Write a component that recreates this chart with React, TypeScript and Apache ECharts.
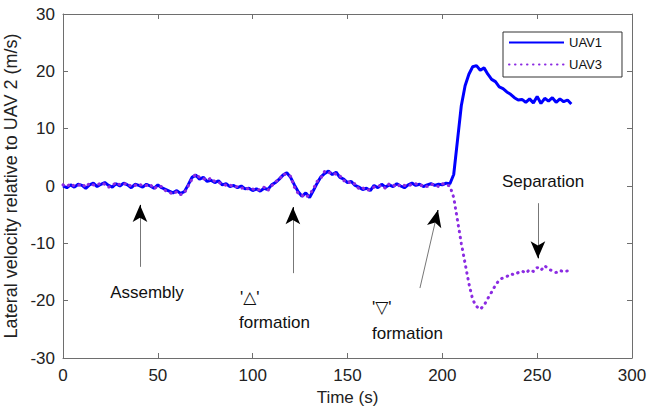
import React, { useEffect, useRef } from 'react';
import * as echarts from 'echarts';

// time step of the samples (s); first sample at t = 0
const T_STEP = 2;

// Lateral velocity relative to UAV 2 (m/s), UAV1, t = 0, 2, 4, ... 268 s
const uav1: number[] = [
  0, -0.3, 0.2, -0.2, 0.3, 0.1, -0.4, 0.2, 0.5, -0.1, 0.3,
  0.6, 0.1, -0.2, 0.4, 0, 0.5, 0.2, -0.3, 0.3, 0.1,
  -0.2, 0.3, 0, -0.4, 0.2, -0.3, -0.6, -0.9, -1.2, -0.8,
  -1.3, -1.0, 0.2, 1.5, 1.9, 1.2, 1.5, 0.8, 1.0, 0.6,
  0.9, 0.2, 0.4, -0.1, 0.1, -0.3, 0, -0.5, -0.4, -0.8,
  -0.5, -0.9, -0.4, -0.6, 0.2, 0.6, 1.2, 1.9, 2.3, 1.5,
  0.2, -1.0, -1.8, -1.2, -2.0, -0.8, 0.5, 1.6, 2.2, 2.6,
  2.0, 2.4, 1.5, 1.2, 0.6, 0.8, 0.1, -0.2, -0.6, -0.4,
  -0.8, 0.1, -0.3, 0.3, -0.2, 0.2, -0.1, 0.4, 0, -0.3,
  0.2, 0.5, 0.1, 0.3, -0.1, 0.2, 0.4, 0.1, 0.3, 0.2,
  0.5, 0.4, 2, 8, 14, 17.5, 19.5, 20.8, 21, 20.2,
  20.6, 19.5, 18.6, 18.2, 17.3, 17.0, 16.4, 16.0, 15.4, 15.0,
  15.1, 14.6, 15.2, 14.5, 15.6, 14.4, 15.3, 14.8, 15.4, 14.6,
  15.2, 14.7, 15.0, 14.3,
];

// UAV3, same time base
const uav3: number[] = [
  0.2, -0.1, 0.4, 0, 0.1, 0.4, -0.2, 0.5, 0.2, 0.1, 0.6,
  0.3, -0.2, 0.1, 0.6, 0.2, 0.3, 0.5, -0.1, 0.1, 0.4,
  0, 0.1, 0.3, -0.5, 0, -0.1, -0.8, -1.1, -1.4, -1.0,
  -1.5, -1.2, 0.0, 1.2, 2.1, 1.5, 1.3, 1.0, 1.4, 0.8,
  0.6, 0.4, 0.1, 0.2, -0.2, -0.1, -0.4, -0.2, -0.6, -0.5,
  -0.8, -0.6, -0.2, -0.8, 0, 0.8, 1.0, 2.1, 2.0, 1.7,
  -0.2, -1.3, -1.6, -2.0, -1.5, -0.5, 0.8, 1.4, 2.6, 2.3,
  2.4, 2.0, 1.8, 0.9, 1.0, 0.3, 0.4, -0.5, -0.3, -0.8,
  -0.6, -0.2, 0, 0.1, -0.4, 0.4, 0.2, -0.2, 0.3, 0.1,
  0, 0.3, 0.4, 0, 0.2, -0.1, 0.3, 0.2, -0.1, 0.4,
  0.2, 0, -2, -6, -10, -13.5, -17, -19.8, -21, -21.5,
  -20.8, -19.6, -18.5, -17.3, -16.4, -16.0, -15.8, -15.3, -15.5, -15.1,
  -14.8, -15.2, -14.6, -14.9, -14.2, -14.7, -13.9, -14.5, -14.8, -15.1,
  -14.7, -15.0, -14.8, -14.9,
];

const seriesNames = ['UAV1', 'UAV3'];
const seriesColors = ['#0000ff', '#8b2be2'];

// annotation arrows: [tail(t, v), tip(t, v)]
const arrowTails: number[][] = [[40.6, -14.1], [121.2, -15.2], [188.2, -17.8], [250.4, -3.0]];
const arrowTips: number[][] = [[40.6, -3.3], [121.2, -3.7], [197.7, -4.2], [250.4, -12.6]];

const FONT = '"Liberation Sans", Arial, "DejaVu Sans", sans-serif';

export default function App() {
  const ref = useRef<HTMLDivElement>(null);
  useEffect(() => {
    document.body.style.margin = '0';
    const chart = echarts.init(ref.current!, null, { renderer: 'svg' });
    const toPairs = (arr: number[]) => arr.map((v, i) => [i * T_STEP, v]);

    const markData: any[] = [];
    arrowTails.forEach((tail, i) => {
      const tip = arrowTips[i];
      markData.push([
        { coord: tail, symbol: 'none' },
        { coord: tip, symbol: 'none', lineStyle: { color: '#777', width: 1, type: 'solid' } },
      ]);
      // head segment
      const back = [tip[0] - (tip[0] - tail[0]) * 0.05, tip[1] - (tip[1] - tail[1]) * 0.05];
      markData.push([
        { coord: back, symbol: 'none' },
        { coord: tip, symbol: 'arrow', symbolSize: [11, 17], lineStyle: { color: '#000', width: 1, type: 'solid' } },
      ]);
    });

    const axisCommon = {
      axisLine: { show: true, onZero: false, lineStyle: { color: '#6e6e6e', width: 1 } },
      axisTick: { show: true, inside: true, length: 5, lineStyle: { color: '#6e6e6e' } },
      splitLine: { show: false },
    };

    chart.setOption({
      animation: false,
      backgroundColor: '#fff',
      textStyle: { fontFamily: FONT },
      grid: { left: 63, right: 16, top: 14, bottom: 54, containLabel: false, outerBoundsMode: 'none' },
      legend: {
        data: seriesNames,
        orient: 'vertical',
        left: 503,
        top: 32,
        itemWidth: 55,
        itemHeight: 14,
        itemGap: 9,
        padding: [4, 20, 6, 5],
        borderColor: '#333',
        borderWidth: 1,
        backgroundColor: '#fff',
        itemStyle: { opacity: 0 },
        textStyle: { fontSize: 13, color: '#111', fontFamily: FONT },
      },
      xAxis: [
        {
          type: 'value', min: 0, max: 300, interval: 50, position: 'bottom',
          name: 'Time (s)', nameLocation: 'middle', nameGap: 28,
          nameTextStyle: { fontSize: 17, color: '#222', fontFamily: FONT },
          axisLabel: { fontSize: 17, color: '#222', margin: 9, fontFamily: FONT },
          ...axisCommon,
        },
        {
          type: 'value', min: 0, max: 300, interval: 50, position: 'top',
          axisLabel: { show: false },
          ...axisCommon,
        },
      ],
      yAxis: [
        {
          type: 'value', min: -30, max: 30, interval: 10, position: 'left',
          name: 'Lateral velocity relative to UAV 2 (m/s)', nameLocation: 'middle', nameGap: 42,
          nameTextStyle: { fontSize: 18, color: '#222', fontFamily: FONT },
          axisLabel: { fontSize: 17, color: '#222', margin: 8, fontFamily: FONT },
          ...axisCommon,
        },
        {
          type: 'value', min: -30, max: 30, interval: 10, position: 'right',
          axisLabel: { show: false },
          ...axisCommon,
        },
      ],
      series: [
        {
          name: seriesNames[0], type: 'line', data: toPairs(uav1), showSymbol: false, symbol: 'none',
          color: seriesColors[0],
          lineStyle: { width: 3, color: seriesColors[0] },
          markLine: {
            silent: true, animation: false, symbol: ['none', 'none'],
            label: { show: false }, data: markData,
          },
          z: 2,
        },
        {
          name: seriesNames[1], type: 'line', data: toPairs(uav3), showSymbol: false, symbol: 'none',
          color: seriesColors[1],
          lineStyle: { width: 3, color: seriesColors[1], type: [0.5, 5.5], cap: 'round' },
          z: 3,
        },
      ],
      graphic: [
        { type: 'text', x: 147, y: 292, style: { text: 'Assembly', font: `17px ${FONT}`, fill: '#111', align: 'center', verticalAlign: 'middle' } },
        { type: 'text', x: 240, y: 297, style: { text: "'\u25B3'", font: `17px ${FONT}`, fill: '#111', align: 'left', verticalAlign: 'middle' } },
        { type: 'text', x: 239, y: 322, style: { text: 'formation', font: `17px ${FONT}`, fill: '#111', align: 'left', verticalAlign: 'middle' } },
        { type: 'text', x: 372, y: 307, style: { text: "'\u25BD'", font: `17px ${FONT}`, fill: '#111', align: 'left', verticalAlign: 'middle' } },
        { type: 'text', x: 372, y: 333, style: { text: 'formation', font: `17px ${FONT}`, fill: '#111', align: 'left', verticalAlign: 'middle' } },
        { type: 'text', x: 543, y: 181, style: { text: 'Separation', font: `17px ${FONT}`, fill: '#111', align: 'center', verticalAlign: 'middle' } },
      ],
    });
    return () => chart.dispose();
  }, []);
  return <div ref={ref} style={{ width: 648, height: 412 }} />;
}
